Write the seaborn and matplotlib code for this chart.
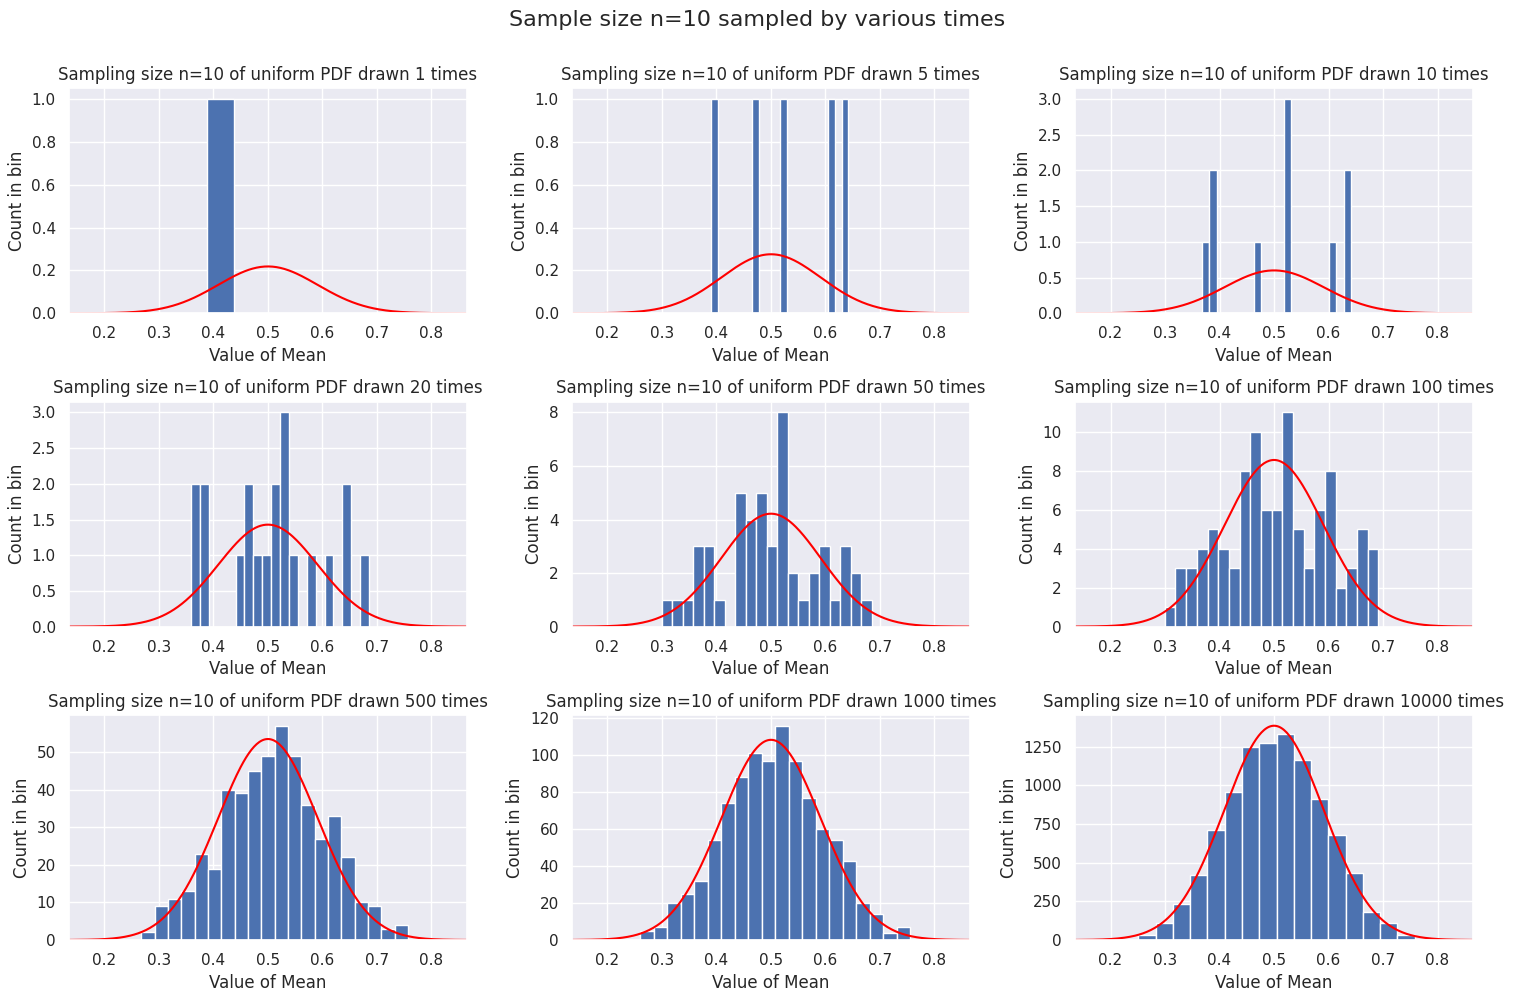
import numpy as np
import pandas as pd
import matplotlib
matplotlib.use('Agg')
import matplotlib.pyplot as plt
import seaborn as sns

# sample size per mean, and population (uniform 0..1) parameters
sample_n = 10
mu = 0.5
sigma = np.sqrt(1 / 12 / sample_n)

# number of times the sample was drawn, one per panel
draws = [1, 5, 10, 20, 50, 100, 500, 1000, 10000]

# histogram bins: left edge, bin width, counts
bin_start = [0.388, 0.390, 0.367, 0.3588, 0.2992, 0.2996, 0.2675, 0.2597, 0.251]
bin_width = [0.050, 0.0126, 0.01373, 0.01634, 0.0193, 0.01958, 0.02447, 0.0248, 0.0317]

counts_1 = [1]
counts_5 = [1, 0, 0, 0, 0, 0, 1, 0, 0, 0, 1, 0, 0, 0, 0, 0, 0, 1, 0, 1]
counts_10 = [1, 2, 0, 0, 0, 0, 0, 1, 0, 0, 0, 3, 0, 0, 0, 0, 0, 1, 0, 2]
counts_20 = [2, 2, 0, 0, 0, 1, 2, 1, 1, 2, 3, 1, 0, 1, 0, 1, 0, 2, 0, 1]
counts_50 = [1, 1, 1, 3, 3, 1, 0, 5, 4, 5, 3, 8, 2, 1, 2, 3, 1, 3, 2, 1]
counts_100 = [1, 3, 3, 4, 5, 4, 3, 8, 10, 6, 6, 11, 5, 3, 6, 8, 2, 3, 5, 4]
counts_500 = [2, 9, 11, 13, 23, 19, 40, 39, 45, 49, 57, 49, 36, 27, 33, 22, 10, 9, 3, 4]
counts_1000 = [5, 7, 20, 25, 32, 54, 74, 88, 101, 97, 116, 97, 77, 60, 54, 43, 20, 14, 4, 7]
counts_10000 = [35, 112, 235, 423, 710, 960, 1245, 1271, 1330, 1161, 909, 676, 436, 183, 112, 35]

all_counts = [counts_1, counts_5, counts_10, counts_20, counts_50,
              counts_100, counts_500, counts_1000, counts_10000]

sns.set_theme(style="darkgrid")
fig, axes = plt.subplots(3, 3, figsize=(15.15, 10), dpi=100)

xs = np.linspace(mu - 4 * sigma, mu + 4 * sigma, 300)
pdf = np.exp(-0.5 * ((xs - mu) / sigma) ** 2) / (sigma * np.sqrt(2 * np.pi))

for ax, n, start, w, counts in zip(axes.flat, draws, bin_start, bin_width, all_counts):
    edges = [start + w * i for i in range(len(counts) + 1)]
    df = pd.DataFrame({
        'mean': [(edges[i] + edges[i + 1]) / 2 for i in range(len(counts))],
        'count': counts,
    })
    sns.histplot(data=df, x='mean', weights='count', bins=edges, ax=ax,
                 color='#4c72b0', alpha=1, edgecolor='white', linewidth=1)
    # normal curve scaled to counts
    ax.plot(xs, pdf * n * w, color='red', linewidth=1.5)
    ax.set_xlim(xs[0], xs[-1])
    ax.set_title(f'Sampling size n={sample_n} of uniform PDF drawn {n} times', fontsize=12)
    ax.set_xlabel('Value of Mean')
    ax.set_ylabel('Count in bin')

fig.suptitle('Sample size n=10 sampled by various times', fontsize=16, y=0.99)
plt.subplots_adjust(left=0.0455, right=0.9723, top=0.9117, bottom=0.06,
                    wspace=0.264, hspace=0.393)
plt.savefig('out.png')
